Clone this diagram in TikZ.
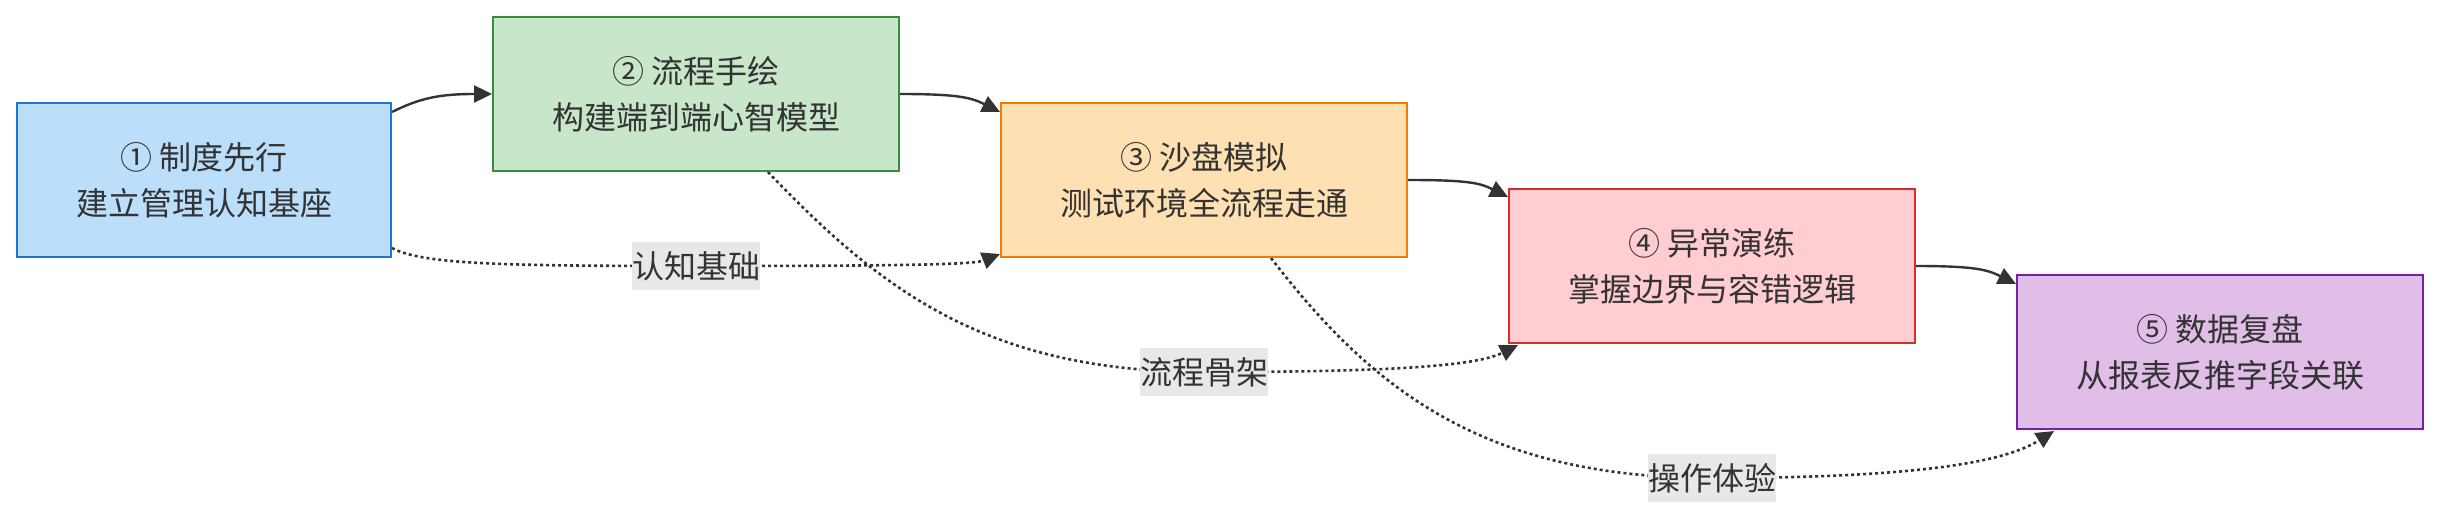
\documentclass[tikz,border=0pt]{standalone}
\usepackage{fontspec}
\setmainfont{Noto Sans CJK SC}
\usetikzlibrary{arrows.meta,calc,backgrounds}
\definecolor{txt}{HTML}{333333}
\definecolor{edgec}{HTML}{333333}
\definecolor{lblbg}{HTML}{E8E8E8}
\definecolor{fA}{HTML}{BBDEFB}\definecolor{dA}{HTML}{1976D2}
\definecolor{fB}{HTML}{C8E6C9}\definecolor{dB}{HTML}{388E3C}
\definecolor{fC}{HTML}{FFE0B2}\definecolor{dC}{HTML}{F57C00}
\definecolor{fD}{HTML}{FFCDD2}\definecolor{dD}{HTML}{D32F2F}
\definecolor{fE}{HTML}{E1BEE7}\definecolor{dE}{HTML}{7B1FA2}
\begin{document}
\begin{tikzpicture}[x=1pt,y=-1pt,
  stepbox/.style={draw, line width=2pt, minimum width=406pt, minimum height=154pt,
    align=center, text=txt, font=\fontsize{32}{46}\selectfont, inner sep=0pt},
  lbl/.style={fill=lblbg, text=txt, font=\fontsize{32}{40}\selectfont,
    inner xsep=0pt, inner ysep=0pt, minimum height=48pt},
  solidedge/.style={draw=edgec, line width=2.4pt, -{Triangle[length=18pt,width=17pt]}},
  dotedge/.style={draw=edgec, line width=2.6pt, dash pattern=on 3pt off 3pt,
    -{Triangle[length=18pt,width=17pt]}}]
\useasboundingbox (0,0) rectangle (2440,518);
\node[stepbox, fill=fA, draw=dA, minimum width=374pt] (b1) at (204,180) {① 制度先行\\建立管理认知基座};
\node[stepbox, fill=fB, draw=dB] (b2) at (696,94) {② 流程手绘\\构建端到端心智模型};
\node[stepbox, fill=fC, draw=dC] (b3) at (1204,180) {③ 沙盘模拟\\测试环境全流程走通};
\node[stepbox, fill=fD, draw=dD] (b4) at (1712,266) {④ 异常演练\\掌握边界与容错逻辑};
\node[stepbox, fill=fE, draw=dE] (b5) at (2220,352) {⑤ 数据复盘\\从报表反推字段关联};
\node[lbl] (l1) at (696,266) {认知基础};
\node[lbl] (l2) at (1204,372) {流程骨架};
\node[lbl] (l3) at (1712,478) {操作体验};
\begin{scope}[on background layer]
\draw[solidedge] ($(b1.east)+(0,-68)$) .. controls +(28,-14) and +(-52,0) .. (b2.west);
\draw[solidedge] (b2.east) .. controls +(60,0) and +(-28,-14) .. ($(b3.west)+(0,-68)$);
\draw[solidedge] (b3.east) .. controls +(60,0) and +(-28,-14) .. ($(b4.west)+(0,-69)$);
\draw[solidedge] (b4.east) .. controls +(60,0) and +(-28,-14) .. ($(b5.west)+(0,-68)$);
\draw[dotedge] ($(b1.east)+(0,68)$) .. controls +(30,16) and +(-200,0) .. (l1.center)
  .. controls +(230,0) and +(-25,10) .. ($(b3.west)+(0,74)$);
\draw[dotedge] ($(b2.south)+(72,0)$) .. controls +(110,115) and +(-220,0) .. (l2.center)
  .. controls +(200,0) and +(-40,20) .. ($(b4.south)+(-194,1)$);
\draw[dotedge] ($(b3.south)+(67,0)$) .. controls +(100,130) and +(-230,0) .. (l3.center)
  .. controls +(240,0) and +(-40,25) .. ($(b5.south)+(-166,1)$);
\end{scope}
\end{tikzpicture}
\end{document}
